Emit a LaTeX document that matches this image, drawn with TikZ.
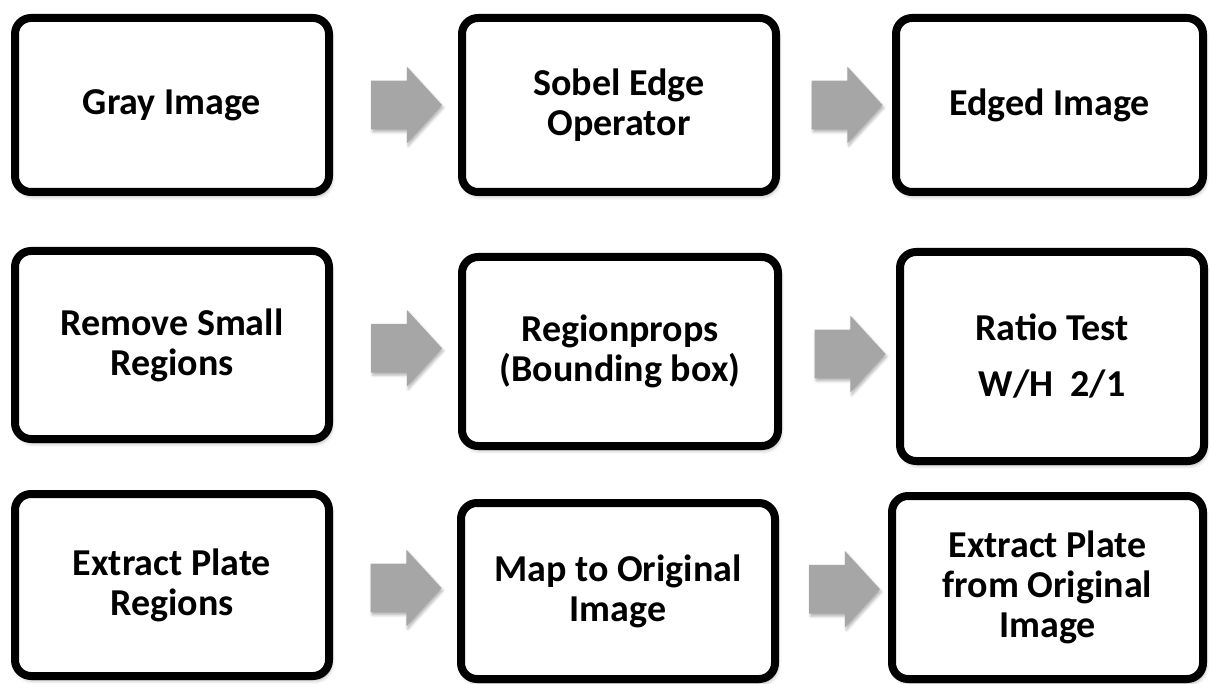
\documentclass[tikz,border=0pt]{standalone}
\usepackage{fontspec}
\setmainfont{Carlito}
\usepackage{tikz}
\usetikzlibrary{calc,shapes.arrows,shadows.blur}
\definecolor{arrowgray}{RGB}{166,166,166}

\begin{document}
\begin{tikzpicture}[line join=round,x=0.75pt,y=-0.75pt,
    stage/.style={draw=black,line width=6pt,rounded corners=12pt,fill=white,align=center,inner sep=0pt,
        font=\fontsize{28.5}{30}\selectfont\bfseries,
        blur shadow={shadow xshift=1.5pt,shadow yshift=-3pt,shadow blur radius=3pt,shadow opacity=35}},
    flow/.style={single arrow,fill=arrowgray,draw=none,inner sep=18pt,minimum height=52.5pt,
        single arrow head extend=10.5pt,single arrow tip angle=95,
        blur shadow={shadow xshift=1pt,shadow yshift=-2pt,shadow blur radius=2pt,shadow opacity=30}}]
                \useasboundingbox (0,0) rectangle (1211,684);
                \node[stage,minimum width=235.5pt,minimum height=130.5pt] (gray) at (172,105) {Gray Image};
                \node[stage,minimum width=235.5pt,minimum height=130.5pt] (sobel) at (619,105) {Sobel Edge\\Operator};
                \node[stage,minimum width=230.25pt,minimum height=130.5pt] (edged) at (1049.5,105) {Edged Image};
                \node[stage,minimum width=235.5pt,minimum height=141pt] (remove) at (172,345) {Remove Small\\Regions};
                \node[stage,minimum width=237pt,minimum height=141.75pt] (props) at (620,351.5) {Regionprops\\(Bounding box)};
                \node[stage,minimum width=228pt,minimum height=156.75pt] (ratio) at (1052,356.5) {Ratio Test\\[12pt]W/H~~2/1};
                \node[stage,minimum width=235.5pt,minimum height=136.5pt] (extract) at (172,585) {Extract Plate\\Regions};
                \node[stage,minimum width=235.5pt,minimum height=132pt] (map) at (618,591) {Map to Original\\Image};
                \node[stage,minimum width=233.25pt,minimum height=137.25pt] (plate) at (1047.5,587.5) {Extract Plate\\from Original\\Image};
                \node[flow] (a1) at ($(gray.east)!0.5!(sobel.west)$) {};
                \node[flow] (a2) at ($(sobel.east)!0.5!(edged.west)$) {};
                \node[flow] (a3) at ($(remove.east)!0.5!(props.west)$) {};
                \node[flow] (a4) at ($(props.east)!0.5!(ratio.west)$) {};
                \node[flow] (a5) at ($(extract.east)!0.5!(map.west)$) {};
                \node[flow] (a6) at ($(map.east)!0.5!(plate.west)$) {};
\end{tikzpicture}
\end{document}
